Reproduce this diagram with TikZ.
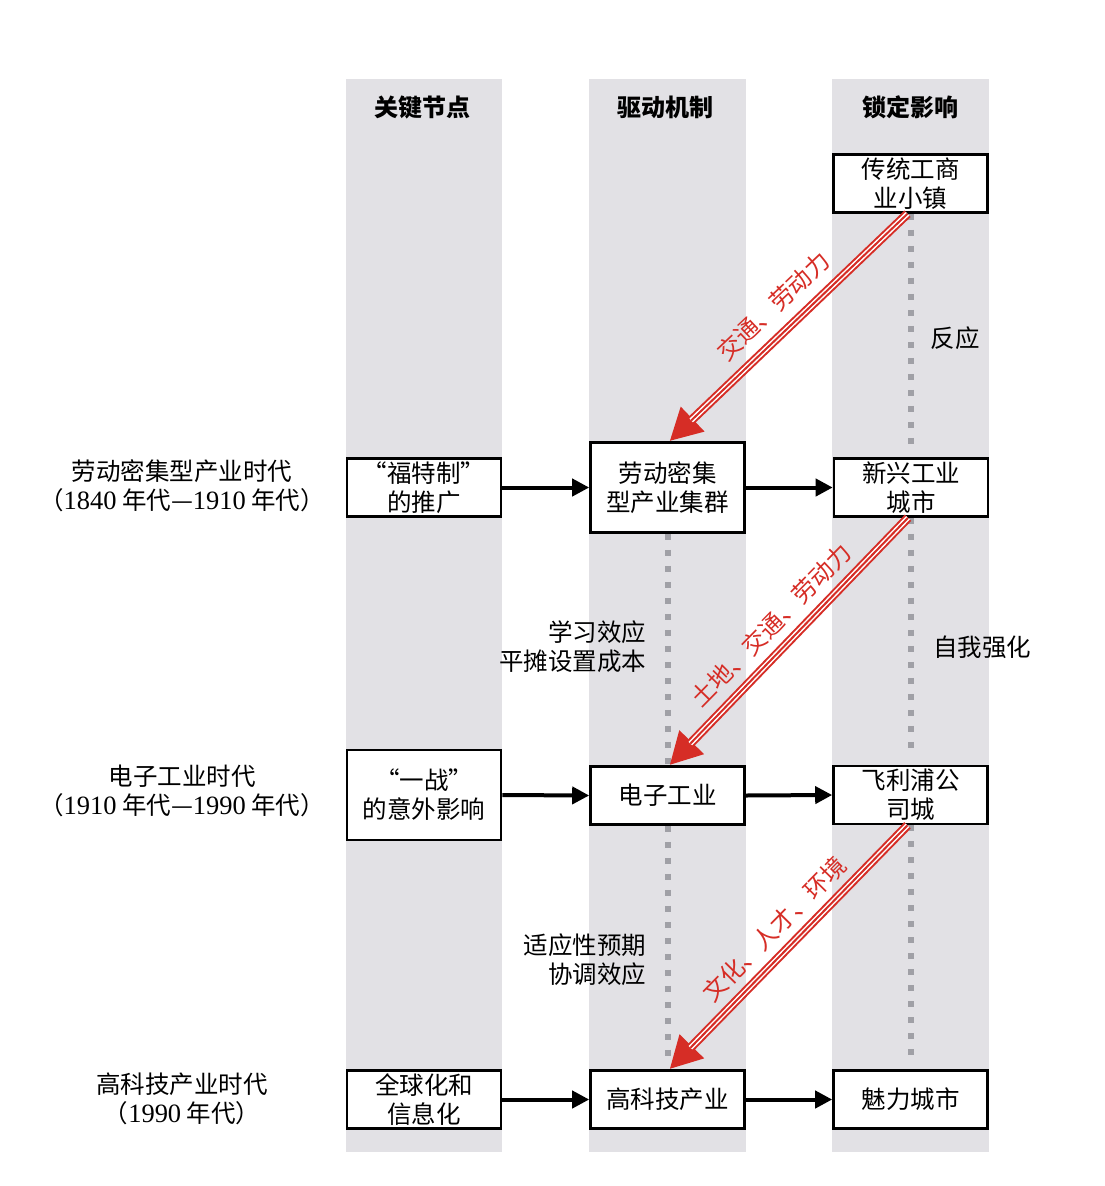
\documentclass[tikz,border=0pt]{standalone}
\usepackage{fontspec}
\setmainfont{Noto Sans CJK SC}
\newfontfamily\numf[Scale=1.08]{Liberation Serif}
\usetikzlibrary{arrows.meta}
\definecolor{band}{RGB}{226,225,229}
\definecolor{dotg}{RGB}{160,160,166}
\definecolor{rl}{RGB}{214,45,38}
\begin{document}
\begin{tikzpicture}[x=1pt,y=-1pt,
  box/.style={draw=black,line width=2.6pt,fill=white,minimum width=154pt,minimum height=58pt,inner sep=0pt,align=center,font=\fontsize{24.5}{29}\selectfont},
  tall/.style={minimum height=90pt},
  hdr/.style={font=\fontsize{24}{29}\selectfont\bfseries},
  lbl/.style={font=\fontsize{24.5}{29}\selectfont,align=center},
  rtext/.style={font=\fontsize{24}{29}\selectfont,text=rl},
  blk/.style={line width=4pt,-{Triangle[length=17pt,width=17pt]}},
  dots/.style={dotg,line width=6pt,dash pattern=on 6pt off 10pt},
  rbase/.style={rl,line width=9pt,-{Triangle[length=32pt,width=32pt]}},
  rwhite/.style={white,line width=5pt,shorten >=30pt},
  rmid/.style={rl,line width=2pt,shorten >=30pt},
]
\useasboundingbox (0,0) rectangle (1105,1186);
\fill[band] (346,79) rectangle (502,1152);
\fill[band] (589,79) rectangle (746,1152);
\fill[band] (832,79) rectangle (989,1152);

\node[hdr] (h1) at (422,107) {关键节点};
\node[hdr] (h2) at (665.5,107) {驱动机制};
\node[hdr] (h3) at (910,107) {锁定影响};

% boxes
\node[box] (t1) at (910.5,183.5) {传统工商\\业小镇};
\node[box] (f1) at (424,487.5) {“福特制”\\的推广};
\node[box,tall] (c1) at (667.5,487.5) {劳动密集\\型产业集群};
\node[box] (n1) at (911,487.5) {新兴工业\\城市};
\node[box,tall] (w2) at (424,795) {“一战”\\的意外影响};
\node[box] (e2) at (667.5,795.5) {电子工业};
\node[box] (p2) at (910.5,795) {飞利浦公\\司城};
\node[box] (g3) at (424,1099.5) {全球化和\\信息化};
\node[box] (k3) at (667.5,1099.5) {高科技产业};
\node[box] (m3) at (910.5,1099.5) {魅力城市};

% left labels
\node[lbl] (l1) at (182,486) {劳动密集型产业时代\\（{\numf 1840} 年代—{\numf 1910} 年代）};
\node[lbl] (l2) at (182,791) {电子工业时代\\（{\numf 1910} 年代—{\numf 1990} 年代）};
\node[lbl] (l3) at (182,1099) {高科技产业时代\\（{\numf 1990} 年代）};

% black arrows
\draw[blk] (f1.east) -- (c1.west);
\draw[blk] (c1.east) -- (n1.west);
\draw[blk] (w2.east) -- (e2.west);
\draw[blk] (e2.east) -- (p2.west);
\draw[blk] (g3.east) -- (k3.west);
\draw[blk] (k3.east) -- (m3.west);

% dotted lines
\draw[dots,shorten >=6pt] (t1.south) -- (n1.north -| t1.south);
\draw[dots,shorten >=8pt] (n1.south) -- (p2.north -| n1.south);
\draw[dots,shorten >=8pt] (p2.south) -- (m3.north);
\draw[dots] (c1.south) -- (e2.north);
\draw[dots,shorten >=6pt] (e2.south) -- (k3.north);

% red arrows
\foreach \s/\e in {t1/c1,n1/e2,p2/k3}{
  \draw[rbase] ([xshift=-3pt]\s.south) -- ([xshift=2pt]\e.north);
  \draw[rwhite] ([xshift=-3pt]\s.south) -- ([xshift=2pt]\e.north);
  \draw[rmid] ([xshift=-3pt]\s.south) -- ([xshift=2pt]\e.north);
}

\node[rtext,rotate=43.4] (r1) at (773,306) {交通、劳动力};
\node[rtext,rotate=45.5] (r2) at (771,625) {土地、交通、劳动力};
\node[rtext,rotate=45.5] (r3) at (774,929) {文化、人才、环境};

% side labels
\node[lbl] (s1) at (955,338) {反应};
\node[lbl] (s2) at (982,647) {自我强化};
\node[lbl,anchor=east,align=right] (s3) at (650,647) {学习效应\\平摊设置成本};
\node[lbl,anchor=east,align=right] (s4) at (650,960) {适应性预期\\协调效应};
\end{tikzpicture}
\end{document}
